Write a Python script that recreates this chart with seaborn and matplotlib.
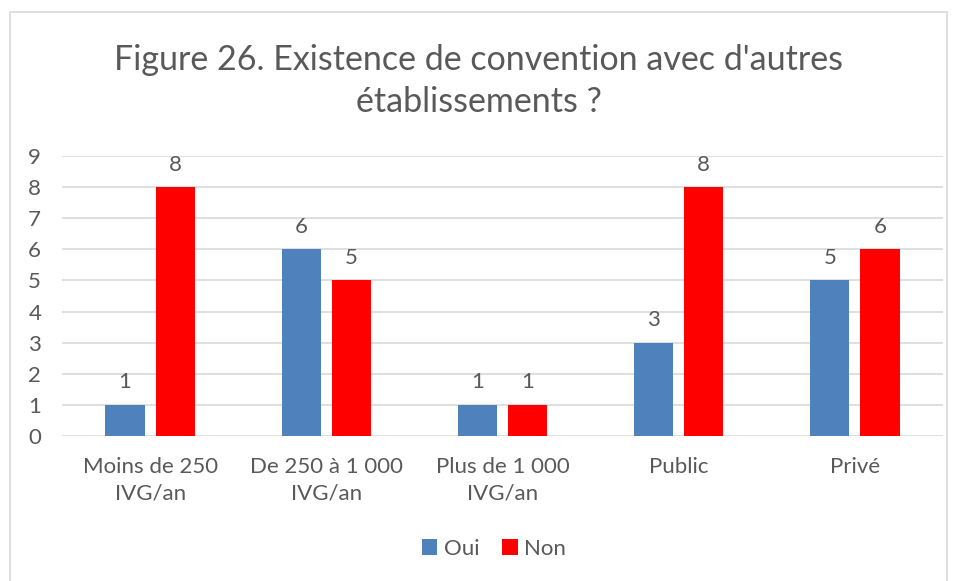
import matplotlib
matplotlib.use("Agg")
import matplotlib.pyplot as plt
import seaborn as sns
import pandas as pd
from matplotlib.patches import Rectangle

categories = ["Moins de 250\nIVG/an", "De 250 à 1 000\nIVG/an", "Plus de 1 000\nIVG/an", "Public", "Privé"]
oui = [1, 6, 1, 3, 5]
non = [8, 5, 1, 8, 6]
series = ["Oui", "Non"]
colors = {"Oui": "#4F81BD", "Non": "#FF0000"}
title = "Figure 26. Existence de convention avec d'autres\nétablissements ?"

df = pd.DataFrame({
    "cat": categories * 2,
    "serie": ["Oui"] * len(categories) + ["Non"] * len(categories),
    "val": oui + non,
})

sns.set_theme(style="white")
plt.rcParams["font.family"] = ["Lato", "DejaVu Sans"]
text_color = "#595959"

fig = plt.figure(figsize=(9.57, 5.81), dpi=100)
ax = fig.add_axes([62 / 957, 1 - 436 / 581, (943 - 62) / 957, (436 - 156) / 581])

sns.barplot(data=df, x="cat", y="val", hue="serie", hue_order=series,
            order=categories, palette=colors, width=0.57, gap=0.22,
            saturation=1, linewidth=0, ax=ax, legend=True)

ax.set_xlim(-0.5, len(categories) - 0.5)
ax.set_ylim(0, 9)
ax.set_yticks(range(0, 10))
ax.yaxis.grid(True, color="#D9D9D9", linewidth=1.2)
ax.set_axisbelow(True)
for s in ax.spines.values():
    s.set_visible(False)
ax.set_xlabel("")
ax.set_ylabel("")
ax.tick_params(axis="both", length=0, labelsize=16, colors=text_color)
ax.tick_params(axis="y", pad=15)
ax.tick_params(axis="x", pad=15)
for lbl in ax.get_xticklabels():
    lbl.set_linespacing(1.4)

for cont in ax.containers:
    ax.bar_label(cont, fmt="%d", padding=9, fontsize=16, color=text_color)

leg = ax.legend(loc="center", bbox_to_anchor=(494 / 957, (581 - 549) / 581), bbox_transform=fig.transFigure,
                ncol=2, frameon=False, fontsize=16, handlelength=0.7, handleheight=0.7,
                handletextpad=0.3, columnspacing=1.0)
for t in leg.get_texts():
    t.set_color(text_color)

fig.text(0.5, 1 - 81 / 581, title, ha="center", va="center", fontsize=24.5,
         color=text_color, linespacing=1.4)

fig.patches.append(Rectangle((10 / 957, -0.01), (947 - 10) / 957, 1 - 12 / 581 + 0.01,
                             transform=fig.transFigure, fill=False,
                             edgecolor="#D9D9D9", linewidth=1.2))

fig.savefig("out.png", dpi=100)
